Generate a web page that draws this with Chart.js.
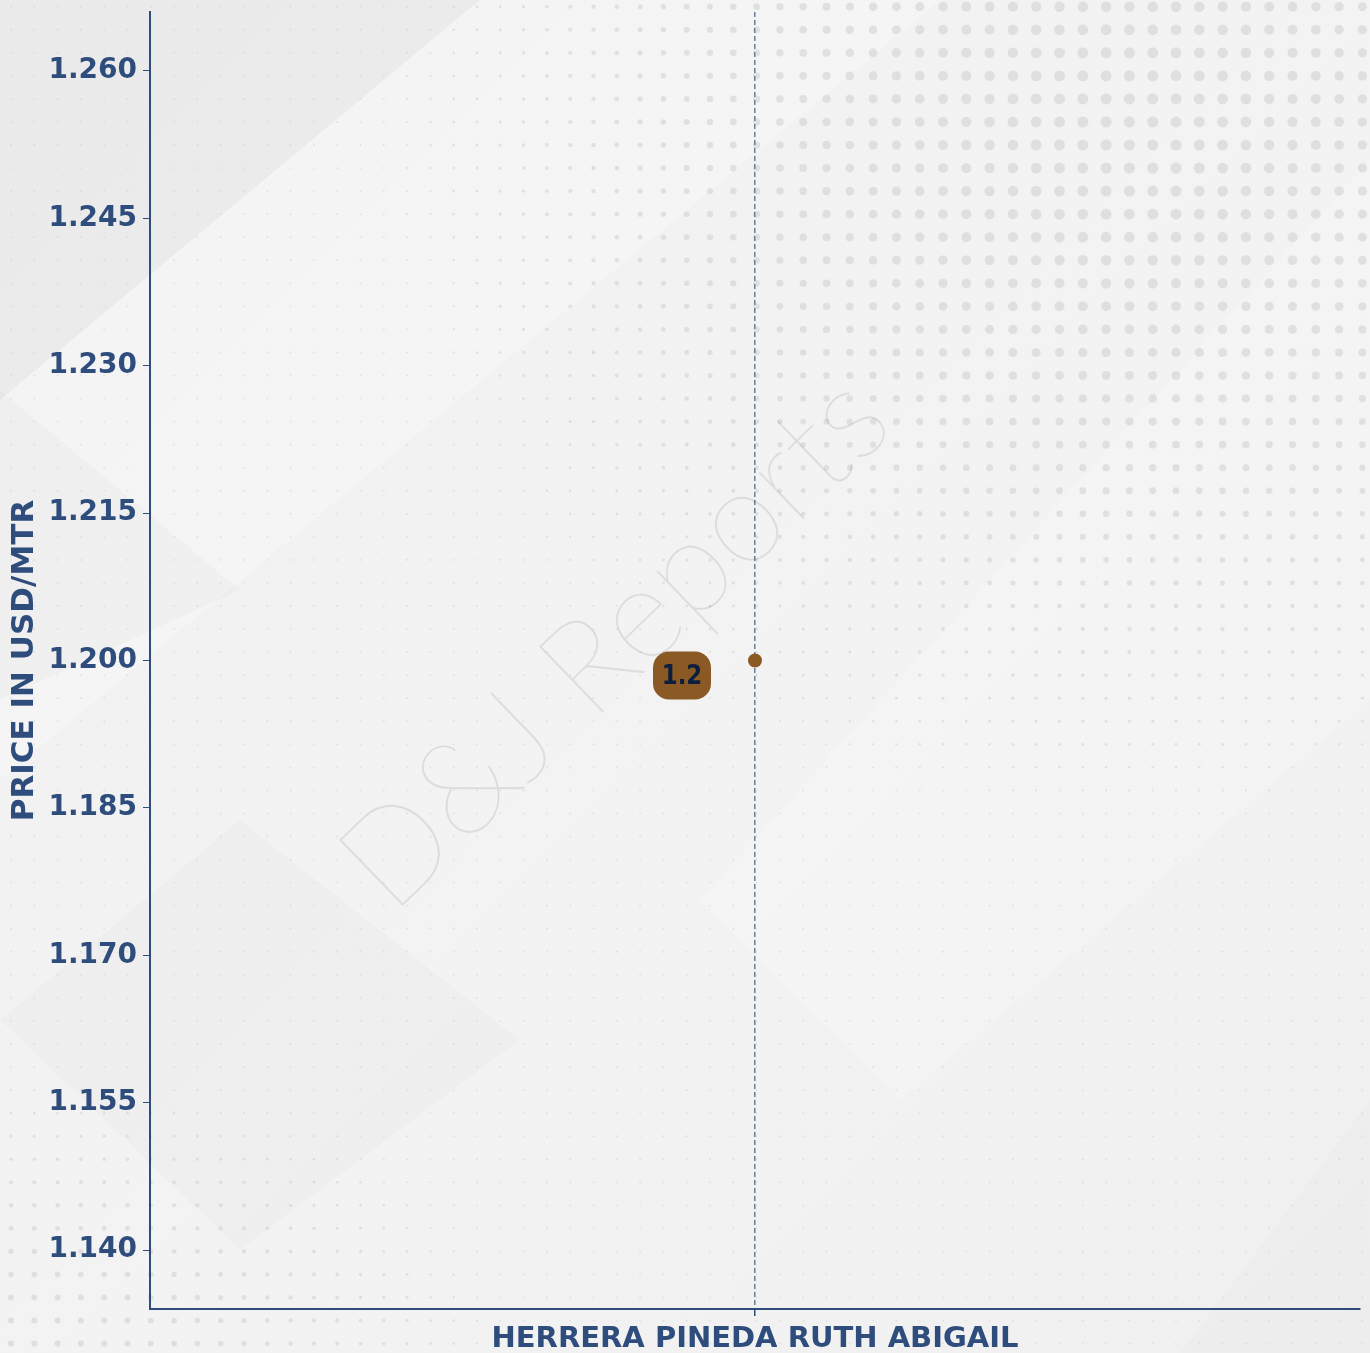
<!DOCTYPE html>
<html>
<head>
<meta charset="utf-8">
<script src="https://cdn.jsdelivr.net/npm/chart.js@4.4.1/dist/chart.umd.min.js"></script>
<style>
  html, body { margin: 0; padding: 0; background: #f1f1f1; }
  #wrap { width: 1370px; height: 1353px; position: relative; }
</style>
</head>
<body>
<div id="wrap"><canvas id="priceChart"></canvas></div>
<script>
// data
const names = ["HERRERA PINEDA RUTH ABIGAIL"];
const prices = [1.2];
const yTicks = [1.140, 1.155, 1.170, 1.185, 1.200, 1.215, 1.230, 1.245, 1.260];
const yMin = 1.134;
const yMax = 1.266;

const navy = '#2e4d7d';
const brown = '#8b5a24';

// background: grey paper with diagonal bands and dot grid
const backdrop = {
    id: 'backdrop',
    beforeDraw(chart) {
        const c = chart.ctx;
        const w = chart.width, h = chart.height;
        c.save();
        let g = c.createLinearGradient(0, 0, w, h);
        g.addColorStop(0, '#f0f0f0');
        g.addColorStop(0.5, '#f3f3f3');
        g.addColorStop(1, '#f0f0f0');
        c.fillStyle = g;
        c.fillRect(0, 0, w, h);

        const poly = (pts, col) => {
            c.beginPath();
            c.moveTo(pts[0][0], pts[0][1]);
            for (let i = 1; i < pts.length; i++) c.lineTo(pts[i][0], pts[i][1]);
            c.closePath();
            c.fillStyle = col;
            c.fill();
        };
        poly([[0, 0], [480, 0], [0, 400]], 'rgba(0,0,0,0.022)');
        poly([[480, 0], [940, 0], [0, 780], [0, 400]], 'rgba(255,255,255,0.25)');
        poly([[0, 390], [240, 590], [0, 700]], 'rgba(0,0,0,0.018)');
        poly([[0, 1020], [240, 820], [520, 1040], [240, 1250]], 'rgba(0,0,0,0.015)');
        poly([[1370, 160], [1370, 700], [900, 1100], [700, 900]], 'rgba(255,255,255,0.2)');
        poly([[1370, 1100], [1370, 1353], [1180, 1353]], 'rgba(0,0,0,0.012)');

        // dots
        c.fillStyle = 'rgba(200,200,200,0.45)';
        for (let y = 6.7; y < h; y += 23.05) {
            for (let x = 11; x < w; x += 23.3) {
                const a = Math.exp(-(((x - 1130) / 560) ** 2 + ((y - 130) / 520) ** 2));
                const b = Math.exp(-(((x - 60) / 420) ** 2 + ((y - 1353) / 260) ** 2));
                const r = Math.max(0.9, 5.6 * a, 3.1 * b);
                c.beginPath();
                c.arc(x, y, r, 0, Math.PI * 2);
                c.fill();
            }
        }
        c.restore();
    }
};

// faint rotated brand mark behind the data
const watermark = {
    id: 'watermark',
    beforeDatasetsDraw(chart) {
        const c = chart.ctx;
        c.save();
        c.translate(615, 642);
        c.rotate(-44 * Math.PI / 180);
        c.font = '200 130px Lato, "DejaVu Sans"';
        c.fillStyle = 'rgba(0,0,0,0.07)';
        c.strokeStyle = 'rgba(0,0,0,0.045)';
        c.lineWidth = 1;
        c.textAlign = 'center';
        c.textBaseline = 'middle';
        c.fillText('D&J Reports', 0, 0);
        c.strokeText('D&J Reports', 0, 0);
        c.restore();
    }
};

// value tag left of the point
const valueTag = {
    id: 'valueTag',
    afterDatasetsDraw(chart) {
        const c = chart.ctx;
        chart.getDatasetMeta(0).data.forEach((pt, i) => {
            const cx = pt.x - 73, cy = pt.y + 15;
            const bw = 58, bh = 48;
            c.save();
            c.beginPath();
            c.roundRect(cx - bw / 2, cy - bh / 2, bw, bh, 16);
            c.fillStyle = brown;
            c.fill();
            c.translate(cx, cy + 1);
            c.scale(0.85, 1);
            c.font = 'bold 27px "DejaVu Sans"';
            c.fillStyle = '#0c1e3d';
            c.textAlign = 'center';
            c.textBaseline = 'middle';
            c.fillText(String(prices[i]), 0, 0);
            c.restore();
        });
    }
};

new Chart(document.getElementById('priceChart'), {
    type: 'line',
    data: {
        labels: names,
        datasets: [{
            data: prices,
            borderColor: brown,
            backgroundColor: brown,
            pointBackgroundColor: brown,
            pointBorderWidth: 0,
            pointRadius: 7,
            showLine: false,
        }],
    },
    options: {
        responsive: true,
        maintainAspectRatio: false,
        animation: false,
        layout: { padding: { left: 0, right: 10, top: 12, bottom: 0 } },
        plugins: {
            legend: { display: false },
            tooltip: { enabled: false },
        },
        scales: {
            x: {
                offset: true,
                border: { color: navy, width: 2, dash: [5, 3] },
                grid: {
                    offset: false,
                    color: '#6c7d99',
                    lineWidth: 1.5,
                    drawTicks: true,
                    tickLength: 7,
                    tickColor: navy,
                    tickBorderDash: [],
                },
                ticks: {
                    color: navy,
                    padding: 6,
                    font: { family: '"DejaVu Sans"', size: 29, weight: 'bold' },
                },
                afterFit(scale) {
                    scale.height = 44;
                    scale.paddingLeft = 0;
                    scale.paddingRight = 0;
                },
            },
            y: {
                min: yMin,
                max: yMax,
                border: { color: navy, width: 2 },
                grid: {
                    drawOnChartArea: false,
                    drawTicks: true,
                    tickLength: 7,
                    color: navy,
                },
                afterBuildTicks(scale) {
                    scale.ticks = yTicks.map(v => ({ value: v }));
                },
                ticks: {
                    color: navy,
                    padding: 6,
                    font: { family: '"DejaVu Sans"', size: 28, weight: 'bold' },
                    callback: v => Number(v).toFixed(3),
                },
                title: {
                    display: true,
                    text: 'PRICE IN USD/MTR',
                    color: navy,
                    padding: { top: 6, bottom: 0 },
                    font: { family: '"DejaVu Sans"', size: 31, weight: 'bold' },
                },
                afterFit(scale) {
                    scale.width = 150;
                    scale.paddingTop = 0;
                    scale.paddingBottom = 0;
                },
            },
        },
    },
    plugins: [backdrop, watermark, valueTag],
});
</script>
</body>
</html>
